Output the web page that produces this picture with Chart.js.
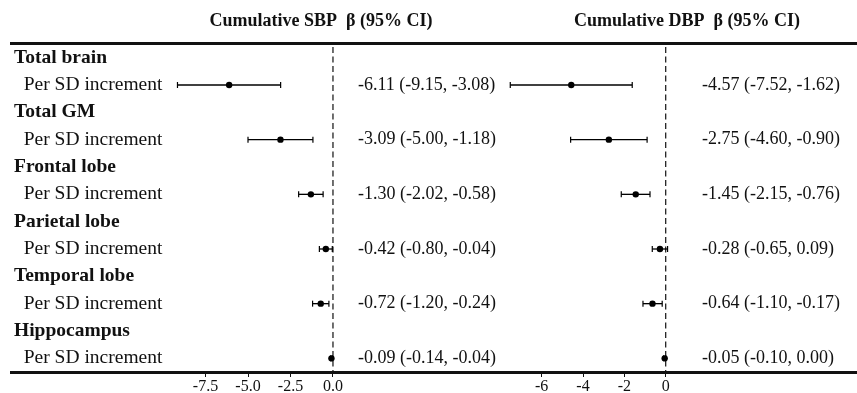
<!DOCTYPE html>
<html>
<head>
<meta charset="utf-8">
<script src="https://cdn.jsdelivr.net/npm/chart.js@4.4.1/dist/chart.umd.min.js"></script>
<style>
html, body { margin: 0; padding: 0; background: #fff; }
#wrap { position: relative; width: 857px; height: 393px; }
#wrap canvas { position: absolute; left: 0; top: 0; }
</style>
</head>
<body>
<div id="wrap">
  <canvas id="sbp" width="857" height="393"></canvas>
  <canvas id="dbp" width="857" height="393"></canvas>
</div>
<script>
var regions = ['Total brain', 'Total GM', 'Frontal lobe', 'Parietal lobe', 'Temporal lobe', 'Hippocampus'];
var sbpBeta = [-6.11, -3.09, -1.30, -0.42, -0.72, -0.09];
var sbpLow  = [-9.15, -5.00, -2.02, -0.80, -1.20, -0.14];
var sbpHigh = [-3.08, -1.18, -0.58, -0.04, -0.24, -0.04];
var dbpBeta = [-4.57, -2.75, -1.45, -0.28, -0.64, -0.05];
var dbpLow  = [-7.52, -4.60, -2.15, -0.65, -1.10, -0.10];
var dbpHigh = [-1.62, -0.90, -0.76, 0.09, -0.17, 0.00];
var sbpTicks = [-7.5, -5.0, -2.5, 0.0];
var dbpTicks = [-6, -4, -2, 0];

var SERIF = '"Liberation Serif", "Times New Roman", serif';
var INK = '#111';

function est(b, lo, hi) {
    return b.toFixed(2) + ' (' + lo.toFixed(2) + ', ' + hi.toFixed(2) + ')';
}

var rowLabels = [], sbpText = [], dbpText = [];
regions.forEach(function (r, i) {
    rowLabels.push(r, '  Per SD increment');
    sbpText.push('', est(sbpBeta[i], sbpLow[i], sbpHigh[i]));
    dbpText.push('', est(dbpBeta[i], dbpLow[i], dbpHigh[i]));
});

var panelPlugin = {
    id: 'panel',
    beforeDatasetsDraw: function (chart) {
        var ctx = chart.ctx, a = chart.chartArea, x0 = chart.scales.x.getPixelForValue(0);
        ctx.save();
        ctx.strokeStyle = INK;
        ctx.lineWidth = 1.2;
        ctx.setLineDash([6, 3.5]);
        ctx.beginPath();
        ctx.moveTo(x0, a.top + 3);
        ctx.lineTo(x0, a.bottom);
        ctx.stroke();
        ctx.restore();
    },
    afterDraw: function (chart, args, opts) {
        var ctx = chart.ctx, a = chart.chartArea;
        ctx.save();
        ctx.fillStyle = INK;
        ctx.font = 'bold 18px ' + SERIF;
        ctx.textAlign = 'center';
        ctx.textBaseline = 'middle';
        ctx.fillText(opts.title, opts.titleX, 21);
        if (opts.rules) {
            ctx.strokeStyle = INK;
            ctx.lineWidth = 3;
            ctx.beginPath();
            ctx.moveTo(10, a.top - 0.5);
            ctx.lineTo(857, a.top - 0.5);
            ctx.moveTo(10, a.bottom + 0.5);
            ctx.lineTo(857, a.bottom + 0.5);
            ctx.stroke();
        }
        ctx.restore();
    }
};

function rowScale(labels, width, extra) {
    var s = {
        type: 'linear',
        min: -0.5,
        max: 11.5,
        reverse: true,
        afterBuildTicks: function (sc) { sc.ticks = labels.map(function (_, i) { return {value: i}; }); },
        afterFit: function (sc) { sc.width = width; sc.paddingTop = 0; sc.paddingBottom = 0; },
        grid: {display: false},
        border: {display: false},
        ticks: {autoSkip: false, color: INK, callback: function (v) { return labels[v]; }}
    };
    Object.keys(extra).forEach(function (k) {
        if (k === 'ticks') Object.assign(s.ticks, extra.ticks); else s[k] = extra[k];
    });
    return s;
}

function makePanel(id, p) {
    var datasets = [{
        data: p.beta.map(function (b, i) { return {x: b, y: 2 * i + 1}; }),
        pointRadius: 3.2,
        pointBackgroundColor: '#000',
        pointBorderWidth: 0,
        showLine: false
    }];
    p.low.forEach(function (lo, i) {
        datasets.push({
            data: [{x: lo, y: 2 * i + 1}, {x: p.high[i], y: 2 * i + 1}],
            showLine: true,
            borderColor: '#000',
            borderWidth: 1.3,
            pointStyle: 'line',
            pointRotation: 90,
            pointRadius: 3,
            pointBorderColor: '#000',
            pointBorderWidth: 1.2
        });
    });

    return new Chart(document.getElementById(id), {
        type: 'scatter',
        data: {datasets: datasets},
        options: {
            responsive: false,
            animation: false,
            events: [],
            layout: {padding: {left: p.padLeft, top: 44, right: 0, bottom: 0}},
            scales: {
                x: {
                    type: 'linear',
                    min: p.min,
                    max: p.max,
                    afterBuildTicks: function (sc) { sc.ticks = p.ticks.map(function (v) { return {value: v}; }); },
                    afterFit: function (sc) { sc.height = 21; sc.paddingLeft = 0; sc.paddingRight = 0; },
                    grid: {drawOnChartArea: false, drawTicks: true, tickLength: 5, color: INK, lineWidth: 1},
                    border: {display: false},
                    ticks: {padding: 0, color: INK, maxRotation: 0, autoSkip: false, font: {family: SERIF, size: 16}, callback: p.tickFmt}
                },
                y: rowScale(rowLabels, p.yWidth, {
                    display: p.showRows,
                    ticks: {crossAlign: 'far', font: function (c) { return {family: SERIF, size: 19.5, weight: c.index % 2 === 0 ? 'bold' : 'normal'}; }}
                }),
                y2: rowScale(p.text, p.y2Width, {
                    position: 'right',
                    ticks: {crossAlign: 'near', padding: p.estPad, font: {family: SERIF, size: 18}}
                })
            },
            plugins: {
                legend: {display: false},
                tooltip: {enabled: false},
                panel: {title: p.title, titleX: p.titleX, rules: p.rules}
            }
        },
        plugins: [panelPlugin]
    });
}

makePanel('sbp', {
    beta: sbpBeta, low: sbpLow, high: sbpHigh, text: sbpText, ticks: sbpTicks,
    tickFmt: function (v) { return Number(v).toFixed(1); },
    min: -9.59, max: 0.59, padLeft: 14, showRows: true, yWidth: 156, y2Width: 514, estPad: 7,
    title: 'Cumulative SBP  \u03b2 (95% CI)', titleX: 321, rules: true
});

makePanel('dbp', {
    beta: dbpBeta, low: dbpLow, high: dbpHigh, text: dbpText, ticks: dbpTicks,
    tickFmt: function (v) { return String(v); },
    min: -7.775, max: 0.643, padLeft: 505, showRows: false, yWidth: 0, y2Width: 178, estPad: 15,
    title: 'Cumulative DBP  \u03b2 (95% CI)', titleX: 687, rules: false
});
</script>
</body>
</html>
